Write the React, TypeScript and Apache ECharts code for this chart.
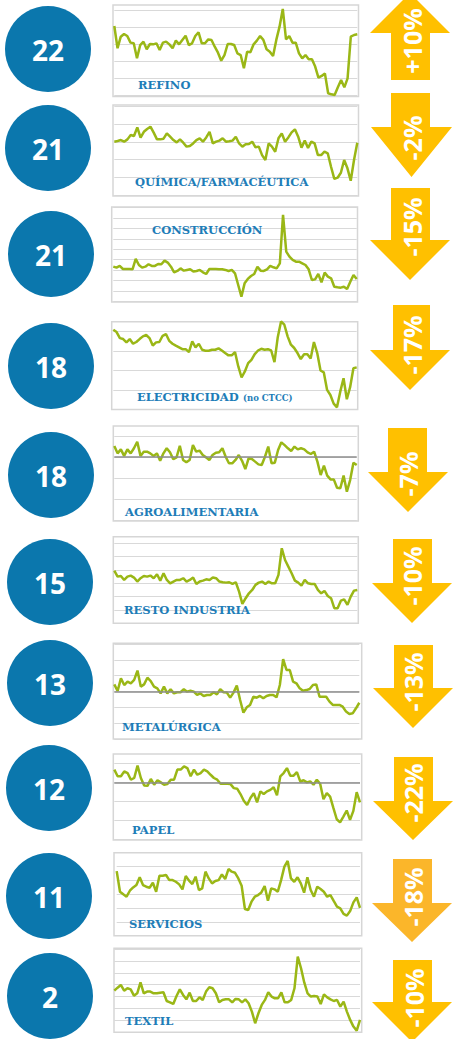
import React, { useEffect, useRef } from 'react';
import * as echarts from 'echarts';

const sectors = ['REFINO', 'QUÍMICA/FARMACÉUTICA', 'CONSTRUCCIÓN', 'ELECTRICIDAD', 'AGROALIMENTARIA', 'RESTO INDUSTRIA', 'METALÚRGICA', 'PAPEL', 'SERVICIOS', 'TEXTIL'];
const sectorNotes = ['', '', '', '(no CTCC)', '', '', '', '', '', ''];
const counts = [22, 21, 21, 18, 18, 15, 13, 12, 11, 2];
const changes = ['+10%', '-2%', '-15%', '-17%', '-7%', '-10%', '-13%', '-22%', '-18%', '-10%'];
const referenceLevel = [null, null, null, null, 3, null, 3, 3, null, null];

const refino = [4.06,2.75,3.43,3.59,3.47,3.08,3.04,2.16,2.94,3.14,2.69,3.0,2.98,3.04,2.65,3.08,3.14,2.98,2.75,3.2,2.98,3.24,3.49,2.94,3.04,3.47,3.69,3.04,3.04,3.27,3.24,2.84,2.49,2.02,2.35,3.0,3.0,2.94,2.45,2.35,1.57,2.55,2.51,2.98,3.2,3.47,3.24,2.69,2.55,2.29,3.24,4.02,5.06,3.27,3.47,3.08,3.08,2.45,2.16,2.35,2.1,2.1,1.67,1.02,1.12,1.27,0.1,0.04,0,0.45,0.88,0.45,0.98,3.43,3.53,3.57];
const quimica = [3.02,3.06,3.11,3.02,3.15,3.4,3.34,3.83,3.25,3.58,3.74,3.87,3.53,3.15,3.15,3.19,3.49,3.3,3.11,2.98,3.15,2.96,2.74,2.77,2.92,3.11,3.21,3.02,3.26,3.58,2.92,3.02,3.08,3.21,3.02,3.04,3.08,3.3,2.92,2.74,2.87,2.89,3.02,2.7,2.74,2.26,1.98,2.92,2.74,2.45,3.21,3.49,3.02,3.26,3.55,3.72,3.3,2.68,3.08,2.66,3.02,2.92,2.26,2.26,2.45,2.36,1.6,0.91,0.98,1.26,1.98,1.51,0.81,1.98,2.96];
const construccion = [3.34,3.25,3.41,3.12,3.12,3.12,3.09,4.08,3.5,3.25,3.34,3.57,3.41,3.41,3.6,3.57,3.92,3.73,3.34,2.8,2.93,3.18,2.96,3.03,3.09,2.87,2.93,3.03,2.8,2.64,3.12,3.12,3.12,3.09,3.09,3.03,2.93,3.03,2.71,1.59,0.48,1.75,2.17,2.45,2.64,3.34,2.96,2.93,3.09,3.41,3.28,3.18,3.66,8.28,4.78,4.3,3.98,3.82,3.82,3.66,3.5,3.09,2.07,2.13,2.64,1.85,2.77,2.39,2.23,1.43,1.37,1.34,1.43,1.21,1.91,2.55,2.17];
const electricidad = [4.1,3.98,3.67,3.62,3.45,3.62,3.38,3.47,3.62,3.76,3.83,3.67,3.29,3.45,3.47,3.79,3.88,3.53,3.38,3.28,3.19,3.1,3.1,2.95,3.5,3.19,3.38,3.07,3.02,3.02,3.07,3.07,3.14,3.03,2.9,2.78,2.78,2.95,2.21,1.64,1.95,2.38,2.55,2.84,3.03,3.12,3.07,3.1,3.03,2.43,3.72,4.53,4.36,3.76,3.33,3.16,2.9,2.59,2.84,2.84,2.62,3.47,2.9,2.0,1.9,1.0,0.74,0.29,0.1,0.91,1.6,0.52,1.14,2.12,2.16];
const agroalimentaria = [3.53,3.18,3.37,3.06,3.37,3.18,3.42,3.73,3.06,3.26,3.26,3.18,3.06,3.18,2.83,3.18,3.42,3.23,2.9,2.99,3.54,2.87,2.76,2.87,3.57,3.26,3.31,3.1,2.99,2.87,3.1,3.21,3.23,3.42,3.02,2.71,2.71,2.87,3.1,2.83,2.44,2.94,2.91,2.79,2.66,2.63,3.02,3.5,2.71,2.74,3.34,3.7,3.57,3.42,3.29,3.5,3.37,3.42,3.37,3.23,3.15,3.26,2.79,2.16,2.6,2.13,1.95,1.95,1.56,1.53,2.13,1.37,1.92,2.74,2.63];
const restoIndustria = [3.95,3.5,3.55,3.25,3.5,3.58,3.43,3.13,3.38,3.55,3.5,3.58,3.38,3.68,3.2,3.75,3.25,3.0,3.13,3.25,3.25,3.38,3.13,3.25,3.43,2.95,3.13,3.2,3.3,3.25,3.43,3.38,3.13,3.08,3.05,3.08,2.95,3.08,2.38,1.45,1.88,2.25,2.5,2.88,3.05,3.13,2.95,3.13,3.0,3.0,3.63,5.63,4.75,4.25,3.75,3.2,3.05,2.83,3.25,3.0,2.95,2.95,2.5,2.25,2.43,2.05,1.88,1.13,1.13,1.7,1.8,1.38,2.0,2.45,2.5];
const metalurgica = [3.45,3.03,3.83,3.41,3.62,3.52,3.73,4.32,3.31,3.45,3.87,3.66,3.31,3.2,2.88,3.31,2.88,3.14,2.88,2.95,2.95,3.14,2.99,3.05,2.99,2.78,2.88,2.72,2.78,2.78,2.95,2.82,3.14,2.95,2.93,2.61,2.93,3.37,2.46,1.66,2.0,2.15,2.67,2.61,2.72,2.57,2.72,2.78,2.78,2.63,3.41,5.05,4.36,4.36,3.62,3.52,3.2,3.05,3.09,3.16,3.41,3.45,2.67,2.67,2.67,2.36,2.15,2.15,2.15,2.04,1.73,1.58,1.62,1.94,2.29];
const papel = [3.67,3.32,3.32,3.58,3.49,3.14,3.23,3.88,3.23,2.84,2.82,3.18,2.88,3.11,3.0,2.88,2.91,3.14,3.14,3.67,3.67,3.84,3.75,3.32,3.67,3.4,3.49,3.67,3.58,3.4,3.23,3.14,2.93,2.93,2.93,2.91,2.7,2.67,2.39,2.04,1.82,2.18,2.44,1.96,2.53,2.39,2.53,2.61,2.75,2.32,3.32,3.49,3.75,3.35,3.35,3.54,3.05,3.11,3.0,3.05,2.88,3.14,2.93,2.12,2.44,2.26,1.65,1.07,0.91,1.21,1.53,1.04,1.51,2.49,1.95];
const servicios = [4.67,3.18,2.99,2.82,3.25,3.49,3.66,4.22,3.66,3.54,3.47,3.83,3.18,4.34,4.34,4.39,4.02,4.02,3.9,3.71,3.35,4.31,3.98,3.73,4.27,3.3,3.42,4.63,4.14,3.78,3.95,4.02,4.43,4.1,4.82,4.63,4.55,4.14,3.61,1.93,1.86,2.46,2.82,2.94,3.13,3.59,2.53,3.42,3.35,3.18,4.02,4.99,5.4,4.14,3.9,4.22,3.78,3.11,4.22,3.3,2.82,3.54,3.37,3.18,2.82,2.94,2.51,2.1,1.98,1.57,1.45,1.78,2.41,2.77,2.02];
const textil = [3.5,3.75,3.98,3.5,3.7,3.61,3.08,3.28,4.2,3.28,3.42,3.42,3.28,3.28,3.33,3.36,2.63,2.52,2.38,3.05,3.61,3.14,2.77,3.33,2.63,2.63,2.94,2.72,3.42,3.78,3.7,3.28,2.52,2.72,2.77,2.77,2.52,2.8,2.77,2.52,2.77,2.44,1.74,0.76,1.6,2.3,2.72,3.36,3.0,2.86,2.86,3.36,2.52,2.52,2.72,3.7,6.36,5.38,4.17,3.28,3.0,3.05,3.0,2.38,3.19,2.94,2.77,2.63,2.72,2.16,2.58,1.74,1.04,0.48,0.14,1.04];

const seriesList = [refino, quimica, construccion, electricidad, agroalimentaria, restoIndustria, metalurgica, papel, servicios, textil];

// Layout (positions only)
type Row = {
  circle: [number, number];
  box: [number, number, number, number];
  grid: [number, number, number, number];
  yMax: number;
  label: [number, number];
  arrow: { up?: boolean; s: [number, number]; h: [number, number]; y0: number; yb: number; yt: number; color?: string };
  text: [number, number];
};

const layout: Row[] = [
  { circle: [48, 49], box: [113, 5, 358.5, 96.5], grid: [114.3, 10, 357.3, 95], yMax: 5, label: [138, 85], arrow: { up: true, s: [391, 430], h: [370, 450], y0: 80, yb: 33, yt: -7 }, text: [412, 41] },
  { circle: [48, 148], box: [113, 105, 358.5, 196], grid: [114.3, 106.7, 357.3, 195], yMax: 5, label: [135, 181.7], arrow: { s: [391, 430], h: [371, 452], y0: 93, yb: 127, yt: 177 }, text: [412, 138] },
  { circle: [51, 254], box: [111.7, 207, 357.5, 302], grid: [113.3, 207.3, 356.7, 301.7], yMax: 9, label: [152, 230], arrow: { s: [391, 430], h: [370, 450], y0: 188, yb: 240, yt: 280 }, text: [412, 227] },
  { circle: [51, 366], box: [111.7, 321.7, 357.7, 409.5], grid: [113.3, 331.7, 356.7, 409.3], yMax: 4, label: [137, 397.3], arrow: { s: [393, 430], h: [370, 450], y0: 305, yb: 350, yt: 390 }, text: [412, 345] },
  { circle: [51, 475], box: [113.3, 426, 358.3, 521], grid: [114.3, 436, 356.7, 520.7], yMax: 4, label: [125, 511.7], arrow: { s: [388, 427], h: [368, 448], y0: 428, yb: 472, yt: 512 }, text: [408, 474] },
  { circle: [50, 582], box: [113.3, 536.7, 358.3, 623.3], grid: [114.3, 543.3, 357.3, 623.3], yMax: 6, label: [124, 610], arrow: { s: [393, 432], h: [372, 452], y0: 539, yb: 583, yt: 623 }, text: [412, 576] },
  { circle: [50, 683], box: [113.3, 643.3, 361.7, 739], grid: [114.3, 644, 359.3, 739], yMax: 6, label: [122, 726.7], arrow: { s: [394, 433], h: [373, 453], y0: 645, yb: 688, yt: 728 }, text: [413, 682] },
  { circle: [49, 788], box: [113.3, 754, 361.7, 840], grid: [114.3, 763.3, 360, 839.7], yMax: 4, label: [132, 830], arrow: { s: [394, 433], h: [373, 453], y0: 757, yb: 801, yt: 840 }, text: [413, 793] },
  { circle: [49, 896], box: [114, 852.7, 361.7, 935.7], grid: [116.7, 852.7, 360, 935.7], yMax: 6, label: [129, 924], arrow: { s: [393, 432], h: [372, 452], y0: 859, yb: 903, yt: 942, color: '#FBB62A' }, text: [413, 897] },
  { circle: [50, 996], box: [114, 948.3, 361.7, 1032.3], grid: [114.3, 949, 360, 1032.3], yMax: 7, label: [125, 1021], arrow: { s: [393, 432], h: [372, 452], y0: 960, yb: 1002, yt: 1042 }, text: [414, 998] },
];

const BLUE = '#0B77AD';
const LABEL = '#1E7DB8';
const GOLD = '#FFC000';
const LINE = '#9AB716';

export default function App() {
  const ref = useRef<HTMLDivElement>(null);
  useEffect(() => {
    if (!ref.current) return;
    const chart = echarts.init(ref.current, undefined, { renderer: 'svg' });

    const grids = layout.map((r) => ({
      left: r.grid[0],
      top: r.grid[1],
      width: r.grid[2] - r.grid[0],
      height: r.grid[3] - r.grid[1],
      containLabel: false,
    }));
    const xAxes = seriesList.map((d, i) => ({
      gridIndex: i,
      type: 'category',
      boundaryGap: false,
      data: d.map((_, j) => j),
      show: false,
    }));
    const yAxes = layout.map((r, i) => ({
      gridIndex: i,
      type: 'value',
      min: 0,
      max: r.yMax,
      interval: 1,
      axisLine: { show: false },
      axisTick: { show: false },
      axisLabel: { show: false },
      splitLine: { show: true, lineStyle: { color: '#d9d9d9', width: 1 } },
    }));
    const series = seriesList.map((d, i) => {
      const s: any = {
        type: 'line',
        name: sectors[i],
        xAxisIndex: i,
        yAxisIndex: i,
        data: d,
        symbol: 'none',
        showSymbol: false,
        clip: false,
        lineStyle: { color: LINE, width: 2.5 },
        itemStyle: { color: LINE },
        z: 3,
      };
      const lvl = referenceLevel[i];
      if (lvl !== null) {
        s.markLine = {
          silent: true,
          symbol: ['none', 'none'],
          label: { show: false },
          lineStyle: { color: '#8c8c8c', width: 1.5, type: 'solid' },
          data: [{ yAxis: lvl }],
        };
      }
      return s;
    });

    const elements: any[] = [];
    layout.forEach((r, i) => {
      elements.push({
        type: 'rect',
        silent: true,
        z: 1,
        shape: { x: r.box[0], y: r.box[1], width: r.box[2] - r.box[0], height: r.box[3] - r.box[1] },
        style: { fill: 'none', stroke: '#d6d6d6', lineWidth: 1.5 },
      });
      elements.push({
        type: 'circle',
        z: 5,
        shape: { cx: r.circle[0], cy: r.circle[1], r: 43 },
        style: { fill: BLUE },
      });
      elements.push({
        type: 'text',
        z: 6,
        x: r.circle[0],
        y: r.circle[1] + 1,
        style: {
          text: String(counts[i]),
          fill: '#ffffff',
          fontSize: 28,
          fontWeight: 'bold',
          fontFamily: 'Open Sans',
          align: 'center',
          verticalAlign: 'middle',
          textAlign: 'center',
          textVerticalAlign: 'middle',
        },
      });
      const a = r.arrow;
      const mid = (a.h[0] + a.h[1]) / 2;
      elements.push({
        type: 'polygon',
        z: 5,
        shape: {
          points: [
            [a.s[0], a.y0],
            [a.s[1], a.y0],
            [a.s[1], a.yb],
            [a.h[1], a.yb],
            [mid, a.yt],
            [a.h[0], a.yb],
            [a.s[0], a.yb],
          ],
        },
        style: { fill: a.color || GOLD },
      });
      elements.push({
        type: 'text',
        z: 6,
        x: r.text[0],
        y: r.text[1],
        rotation: Math.PI / 2,
        style: {
          text: changes[i],
          fill: '#ffffff',
          fontSize: 25,
          fontWeight: 'bold',
          fontFamily: 'Open Sans',
          align: 'center',
          verticalAlign: 'middle',
          textAlign: 'center',
          textVerticalAlign: 'middle',
        },
      });
      elements.push({
        type: 'text',
        z: 10,
        x: r.label[0],
        y: r.label[1],
        style: {
          text: sectors[i],
          fill: LABEL,
          fontSize: 11.5,
          fontWeight: 'bold',
          fontFamily: 'DejaVu Serif',
          align: 'left',
          verticalAlign: 'middle',
          textAlign: 'left',
          textVerticalAlign: 'middle',
        },
      });
      if (sectorNotes[i]) {
        elements.push({
          type: 'text',
          z: 10,
          x: 243,
          y: r.label[1] + 0.5,
          style: {
            text: sectorNotes[i],
            fill: LABEL,
            fontSize: 8.5,
            fontWeight: 'bold',
            fontFamily: 'DejaVu Serif',
            align: 'left',
            verticalAlign: 'middle',
            textAlign: 'left',
            textVerticalAlign: 'middle',
          },
        });
      }
    });

    chart.setOption({
      animation: false,
      backgroundColor: '#ffffff',
      grid: grids,
      xAxis: xAxes,
      yAxis: yAxes,
      series,
      graphic: { elements },
    });
    return () => chart.dispose();
  }, []);
  return <div ref={ref} style={{ position: 'absolute', left: 0, top: 0, width: 453, height: 1039 }} />;
}
